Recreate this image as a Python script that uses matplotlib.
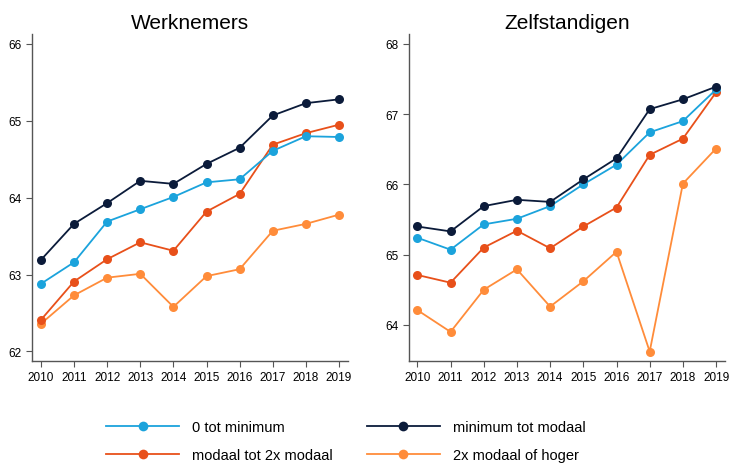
import matplotlib
matplotlib.use("Agg")
import matplotlib.pyplot as plt
from matplotlib.lines import Line2D

plt.rcParams['font.family'] = ['Liberation Sans', 'DejaVu Sans']

years = list(range(2010, 2020))

# Werknemers
wn_0_min = [62.88, 63.16, 63.69, 63.85, 64.01, 64.20, 64.24, 64.61, 64.80, 64.79]
wn_min_mod = [63.19, 63.66, 63.93, 64.22, 64.18, 64.44, 64.65, 65.07, 65.23, 65.28]
wn_mod_2x = [62.41, 62.91, 63.20, 63.42, 63.31, 63.82, 64.05, 64.69, 64.84, 64.95]
wn_2x_hoger = [62.36, 62.73, 62.96, 63.01, 62.58, 62.98, 63.07, 63.57, 63.66, 63.78]

# Zelfstandigen
zs_0_min = [65.24, 65.07, 65.43, 65.51, 65.69, 66.00, 66.28, 66.74, 66.90, 67.35]
zs_min_mod = [65.40, 65.33, 65.69, 65.78, 65.75, 66.07, 66.37, 67.07, 67.21, 67.39]
zs_mod_2x = [64.71, 64.60, 65.10, 65.34, 65.09, 65.40, 65.67, 66.42, 66.65, 67.31]
zs_2x_hoger = [64.21, 63.90, 64.50, 64.79, 64.26, 64.62, 65.04, 63.62, 66.01, 66.51]

labels = ['0 tot minimum', 'minimum tot modaal', 'modaal tot 2x modaal', '2x modaal of hoger']
colors = ['#1BA3DC', '#0B1B3A', '#E8501A', '#FF8C3A']

fig = plt.figure(figsize=(7.3, 4.64), dpi=100)
ax1 = fig.add_axes([0.0442, 0.2205, 0.4325, 0.7041])
ax2 = fig.add_axes([0.5599, 0.2205, 0.4333, 0.7041])


def draw(ax, series, title, ylim, yticks):
    # draw back to front so dark line sits on top like the original
    order = [3, 2, 0, 1]
    for i in order:
        ax.plot(years, series[i], color=colors[i], marker='o', markersize=6.5,
                linewidth=1.3, markeredgewidth=0)
    ax.set_title(title, fontsize=15, pad=4)
    ax.set_xlim(2009.74, 2019.27)
    ax.set_ylim(*ylim)
    ax.set_xticks(years)
    ax.set_yticks(yticks)
    ax.tick_params(labelsize=8.5, length=4, color='#555555', direction='out')
    for s in ['top', 'right']:
        ax.spines[s].set_visible(False)
    for s in ['left', 'bottom']:
        ax.spines[s].set_color('#555555')
        ax.spines[s].set_linewidth(1.0)


draw(ax1, [wn_0_min, wn_min_mod, wn_mod_2x, wn_2x_hoger], 'Werknemers',
     (61.88, 66.13), [62, 63, 64, 65, 66])
draw(ax2, [zs_0_min, zs_min_mod, zs_mod_2x, zs_2x_hoger], 'Zelfstandigen',
     (63.49, 68.14), [64, 65, 66, 67, 68])

handles = [Line2D([], [], color=c, marker='o', markersize=7, linewidth=1.3,
                  markeredgewidth=0) for c in colors]
order = [0, 2, 1, 3]
fig.legend([handles[i] for i in order], [labels[i] for i in order],
           loc='center', bbox_to_anchor=(0.474, 0.047), ncol=2, frameon=False,
           fontsize=10.5, handlelength=5.0, handletextpad=0.9,
           columnspacing=2.3, labelspacing=0.95)

fig.savefig('out.png', dpi=100)
